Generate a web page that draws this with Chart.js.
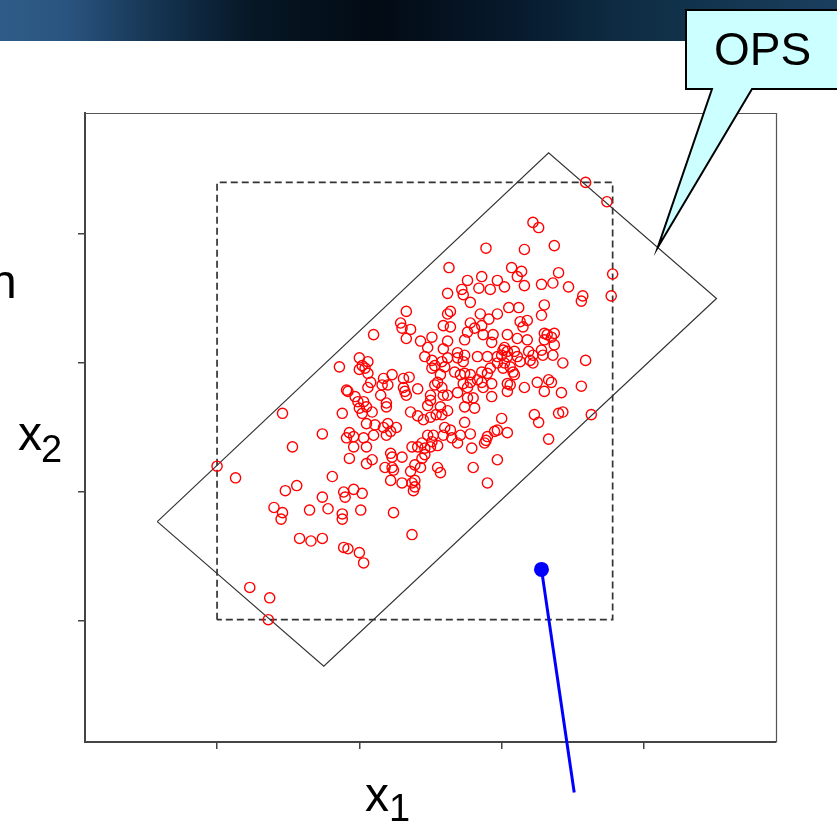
<!DOCTYPE html>
<html>
<head>
<meta charset="utf-8">
<script src="https://cdn.jsdelivr.net/npm/chart.js@4/dist/chart.umd.min.js"></script>
<style>
html, body { margin: 0; padding: 0; background: #fff; }
#stage { position: relative; width: 837px; height: 822px; overflow: hidden; }
#banner {
  position: absolute; left: 0; top: 0; width: 837px; height: 41px;
  background: linear-gradient(90deg, #2e5c88 0%, #2a5480 8%, #163654 18%, #061725 30%,
              #030b14 45%, #06182a 60%, #0e2d44 75%, #1a3f5e 100%);
}
#plot { position: absolute; left: 0; top: 0; }
.lbl { position: absolute; font-family: Arial, "Liberation Sans", sans-serif; color: #000; white-space: nowrap; }
</style>
</head>
<body>
<div id="stage">
  <div id="banner"></div>
  <canvas id="plot" width="837" height="822"></canvas>
  <span class="lbl" style="left:-10px; top:258px; font-size:48px; line-height:48px;">n</span>
  <span class="lbl" style="left:18px; top:410px; font-size:48px; line-height:48px;">x</span>
  <span class="lbl" style="left:41px; top:430px; font-size:38px; line-height:38px;">2</span>
  <span class="lbl" style="left:365px; top:771px; font-size:48px; line-height:48px;">x</span>
  <span class="lbl" style="left:389px; top:789px; font-size:38px; line-height:38px;">1</span>
  <span class="lbl" style="left:714px; top:26px; font-size:46px; line-height:46px;">OPS</span>
</div>
<script>
// Axis ticks (unlabelled) and visible ranges
const tickValues = [1, 2, 3, 4];
const x1Range = [0.072, 4.928];
const x2Range = [0.062, 4.938];

// Corners of the rotated operating region (OPS)
const opsCorners = [[0.58, 1.77], [3.33, 4.63], [4.51, 3.50], [1.75, 0.65]];
// Fraction along the upper-right edge where the callout points
const calloutAt = 0.65;

// Pointer: design point and where its leader line ends
const pointerLine = [[3.28, 1.40], [3.51, -0.33]];

// Observed samples (x1, x2)
const samplePoints = [
  [3.59,4.40],[3.74,4.25],[3.22,4.09],[3.26,4.05],[2.89,3.89],[3.16,3.88],[3.37,3.91],[2.63,3.74],
  [3.07,3.74],[3.11,3.67],[3.14,3.71],[3.40,3.70],[3.78,3.69],[2.86,3.67],[2.76,3.64],[2.97,3.64],
  [2.72,3.57],[2.84,3.58],[2.92,3.57],[3.02,3.59],[3.16,3.60],[3.28,3.61],[3.36,3.62],[3.47,3.59],
  [2.62,3.54],[2.73,3.53],[2.78,3.47],[3.57,3.52],[3.56,3.48],[3.77,3.52],[2.33,3.40],[2.62,3.38],
  [2.64,3.40],[2.85,3.38],[2.91,3.34],[2.97,3.38],[3.05,3.43],[3.12,3.43],[3.30,3.45],[3.28,3.37],
  [2.59,3.29],[2.78,3.31],[2.86,3.29],[2.81,3.27],[3.13,3.32],[3.18,3.33],[2.29,3.31],[2.30,3.27],
  [2.36,3.26],[2.10,3.22],[2.64,3.28],[3.15,3.28],
  [2.33,3.19],[2.43,3.17],[2.51,3.20],[2.62,3.17],[2.48,3.12],[2.59,3.11],[2.46,3.05],[2.51,3.02],
  [2.53,2.98],[2.58,3.01],[2.60,2.97],[2.51,2.96],[2.00,3.04],[2.06,3.01],[2.02,2.98],[2.00,2.95],
  [2.04,2.96],[2.06,2.92],[1.86,2.97],[2.17,2.88],[2.23,2.91],[2.20,2.83],[2.16,2.83],[2.06,2.81],
  [2.08,2.85],[1.91,2.79],[1.92,2.78],[2.31,2.88],[2.35,2.89],[2.31,2.81],[2.32,2.78],[2.33,2.75],
  [2.41,2.80],[2.50,2.75],[2.55,2.85],[2.58,2.81],[2.53,2.83],[2.59,2.75],[2.57,2.91],[1.97,2.74],
  [1.99,2.70],[2.03,2.70],[2.05,2.66],[2.00,2.65],[2.02,2.61],[2.09,2.62],[2.15,2.75],[2.19,2.69],
  [2.19,2.66],[2.36,2.62],[1.88,2.61],[2.48,2.67],[2.57,2.66],[2.41,2.59],[2.45,2.56],[2.50,2.58],
  [2.54,2.60],[2.58,2.60],[2.62,2.63],[2.50,2.71],
  [2.76,3.24],[2.74,3.18],[2.87,3.22],[2.94,3.22],[2.93,3.16],[3.04,3.22],[3.11,3.19],[3.18,3.18],
  [3.32,3.22],[3.35,3.20],[3.37,3.14],[3.28,3.10],[3.19,3.09],[3.22,3.06],[3.29,3.06],[3.36,3.06],
  [3.02,3.12],[3.01,3.10],[3.04,3.09],[3.00,3.06],[3.04,3.05],[3.09,3.09],[3.11,3.05],[3.13,3.01],
  [2.97,3.05],[2.97,3.00],[3.02,3.00],[3.06,2.97],[3.01,2.96],[3.08,2.93],[3.09,2.91],[2.90,3.05],
  [2.92,2.96],[2.90,2.92],[2.86,2.93],[2.83,3.05],[2.74,3.06],[2.69,3.08],[2.69,3.04],[2.73,3.01],
  [2.62,3.04],[2.67,2.93],[2.71,2.91],[2.74,2.92],[2.78,2.91],[2.83,2.87],[2.78,2.85],[2.73,2.84],
  [2.86,2.85],[2.93,2.84],[2.87,2.81],[2.93,2.74],[3.04,2.84],[3.04,2.78],[3.16,2.81],[3.25,2.85],
  [3.33,2.87],[3.35,2.85],[3.30,2.78],[3.42,2.77],[3.20,3.02],[3.22,3.00],[3.30,3.18],[3.37,3.23],
  [3.30,3.23],[2.69,2.77],[2.76,2.73],[2.80,2.73],[2.74,2.66],[2.81,2.65],[2.62,2.75],[3.00,2.57],
  [3.23,2.60],[3.40,2.61],[3.59,3.02],[3.56,2.82],[3.43,3.00],[3.06,2.83],[2.76,2.81],
  [2.05,2.53],[2.11,2.52],[2.17,2.50],[2.20,2.53],[2.22,2.47],[2.26,2.50],[2.19,2.44],[2.10,2.44],
  [2.03,2.42],[1.96,2.43],[1.91,2.42],[1.93,2.46],[1.96,2.35],[2.05,2.35],[1.93,2.26],[2.05,2.22],
  [2.09,2.25],[1.81,2.12],[1.89,2.00],[1.96,2.02],[2.02,1.99],[2.22,2.30],[2.23,2.27],[2.30,2.27],
  [2.18,2.19],[2.23,2.19],[2.24,2.17],[2.22,2.09],[2.30,2.07],[2.37,2.07],[2.39,2.04],[2.39,2.09],
  [2.36,2.16],[2.39,2.21],[2.43,2.19],[2.44,2.26],[2.46,2.29],[2.37,2.35],[2.41,2.35],[2.46,2.34],
  [2.50,2.35],[2.51,2.39],[2.48,2.44],[2.52,2.44],[2.60,2.50],[2.64,2.48],[2.59,2.44],[2.65,2.42],
  [2.55,2.36],[2.69,2.38],[2.74,2.54],[2.71,2.44],[2.79,2.34],[2.90,2.43],[2.95,2.47],[2.88,2.38],
  [2.97,2.25],[2.80,2.19],[2.55,2.19],[2.57,2.15],[2.90,2.07],[2.38,2.01],[2.97,2.48],[3.04,2.46],
  [2.89,2.40],[2.78,2.45],[2.44,2.38],[3.26,2.54],[3.43,2.62],[3.63,2.60],[3.33,2.41],[2.37,1.67],
  [1.46,2.61],[1.53,2.35],[1.74,2.45],[1.13,2.11],[1.00,2.20],[1.56,2.05],[1.48,2.01],[1.74,1.96],
  [1.40,1.88],[1.46,1.84],[1.45,1.79],[1.65,1.86],[1.78,1.87],[1.88,1.83],[1.88,1.79],[2.01,1.86],
  [2.24,1.84],[1.58,1.64],[1.66,1.62],[1.74,1.64],[1.89,1.57],[1.92,1.56],[2.00,1.53],[2.03,1.45],
  [1.23,1.26],[1.37,1.18],[1.36,1.01],[1.90,1.96]
];

const toXY = p => ({ x: p[0], y: p[1] });

// Bounding box of the samples (dashed)
const xs = samplePoints.map(p => p[0]);
const ys = samplePoints.map(p => p[1]);
const bx0 = Math.min(...xs), bx1 = Math.max(...xs);
const by0 = Math.min(...ys), by1 = Math.max(...ys);
const boundingBox = [[bx0, by0], [bx0, by1], [bx1, by1], [bx1, by0], [bx0, by0]];

// Closed OPS outline
const opsOutline = opsCorners.concat([opsCorners[0]]);

const AXIS_COLOR = '#444';

// Top and right sides of the plot frame
const framePlugin = {
  id: 'frame',
  beforeDatasetsDraw(chart) {
    const { ctx, chartArea: a } = chart;
    ctx.save();
    ctx.strokeStyle = '#555';
    ctx.lineWidth = 1.2;
    ctx.beginPath();
    ctx.moveTo(a.left, a.top + 0.5);
    ctx.lineTo(a.right + 0.5, a.top + 0.5);
    ctx.lineTo(a.right + 0.5, a.bottom);
    ctx.stroke();
    ctx.restore();
  }
};

// Speech-bubble callout naming the OPS region
const calloutPlugin = {
  id: 'callout',
  afterDraw(chart) {
    const { ctx } = chart;
    const xs = chart.scales.x, ys = chart.scales.y;
    const a = opsCorners[1], b = opsCorners[2];
    const tx = xs.getPixelForValue(a[0] + (b[0] - a[0]) * calloutAt);
    const ty = ys.getPixelForValue(a[1] + (b[1] - a[1]) * calloutAt);
    ctx.save();
    ctx.fillStyle = '#ccffff';
    ctx.strokeStyle = '#000';
    ctx.lineWidth = 2;
    ctx.lineJoin = 'miter';
    ctx.beginPath();
    ctx.moveTo(686, 10);
    ctx.lineTo(850, 10);
    ctx.lineTo(850, 89);
    ctx.lineTo(752, 89);
    ctx.lineTo(tx, ty);
    ctx.lineTo(712, 89);
    ctx.lineTo(686, 89);
    ctx.closePath();
    ctx.fill();
    ctx.stroke();
    ctx.restore();
  }
};

const fixedSize = (prop, size) => (axis) => { axis[prop] = size; };
const setTicks = (axis) => { axis.ticks = tickValues.map(v => ({ value: v })); };

new Chart(document.getElementById('plot'), {
  type: 'scatter',
  data: {
    datasets: [
      {
        type: 'line',
        data: pointerLine.map(toXY),
        borderColor: '#0000ff',
        borderWidth: 3,
        pointRadius: 0,
        fill: false,
        tension: 0,
        clip: false,
        order: 0
      },
      {
        data: [toXY(pointerLine[0])],
        pointRadius: 7.5,
        pointBackgroundColor: '#0000ff',
        pointBorderColor: '#0000ff',
        pointBorderWidth: 0,
        order: 1
      },
      {
        data: samplePoints.map(toXY),
        pointStyle: 'circle',
        pointRadius: 5.1,
        pointBorderWidth: 1.4,
        pointBorderColor: '#ff0000',
        pointBackgroundColor: 'rgba(0,0,0,0)',
        order: 2
      },
      {
        type: 'line',
        data: boundingBox.map(toXY),
        borderColor: '#333',
        borderWidth: 1.7,
        borderDash: [7, 4],
        pointRadius: 0,
        fill: false,
        tension: 0,
        order: 3
      },
      {
        type: 'line',
        data: opsOutline.map(toXY),
        borderColor: '#333',
        borderWidth: 1.2,
        pointRadius: 0,
        fill: false,
        tension: 0,
        order: 4
      }
    ]
  },
  options: {
    responsive: false,
    animation: false,
    events: [],
    layout: { padding: { left: 75, top: 113, right: 61, bottom: 70 } },
    plugins: { legend: { display: false }, tooltip: { enabled: false } },
    scales: {
      x: {
        type: 'linear',
        min: x1Range[0], max: x1Range[1],
        afterBuildTicks: setTicks,
        afterFit: fixedSize('height', 10),
        ticks: { display: false },
        grid: { display: true, drawOnChartArea: false, drawTicks: true, tickLength: 7, color: AXIS_COLOR, lineWidth: 1.5 },
        border: { display: true, color: AXIS_COLOR, width: 2 }
      },
      y: {
        type: 'linear',
        min: x2Range[0], max: x2Range[1],
        afterBuildTicks: setTicks,
        afterFit: fixedSize('width', 10),
        ticks: { display: false },
        grid: { display: true, drawOnChartArea: false, drawTicks: true, tickLength: 7, color: AXIS_COLOR, lineWidth: 1.5 },
        border: { display: true, color: AXIS_COLOR, width: 2 }
      }
    }
  },
  plugins: [framePlugin, calloutPlugin]
});
</script>
</body>
</html>
